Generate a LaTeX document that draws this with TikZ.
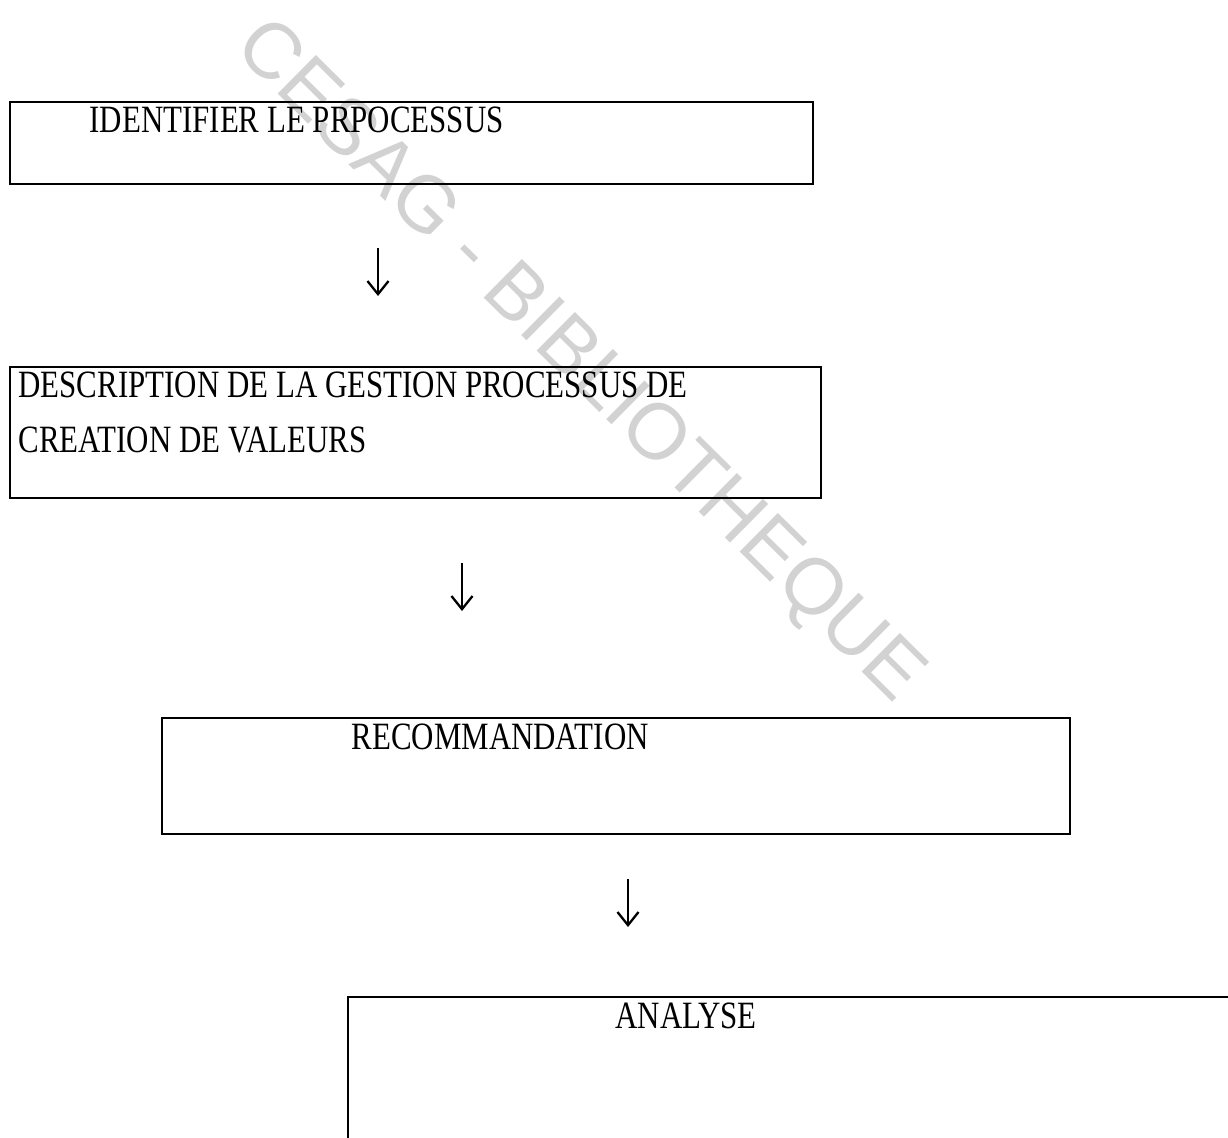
\documentclass[tikz,border=0pt]{standalone}
\usepackage{fontspec}
\setmainfont[FakeStretch=0.8]{Liberation Serif}
\newfontfamily\markfont{Liberation Sans}
\usetikzlibrary{arrows.meta,positioning,fit,calc}
\definecolor{Watermark}{HTML}{D2D2D2}
\tikzset{
    % plain boxes, text set near the top
    stepbox/.style={
        rectangle,
        draw=black,
        line width=0.9pt,
        inner sep=0pt
    },
    steptext/.style={
        anchor=base west,
        inner sep=0pt,
        font=\fontsize{22}{26}\selectfont
    },
    flowarrow/.style={
        -{Straight Barb[length=7.5pt,width=12pt,line width=1.3pt]},
        line width=1.3pt
    }
}
\begin{document}
\begin{tikzpicture}[x=0.02cm, y=-0.02cm]
    \useasboundingbox (0,0) rectangle (1228,1137);
    \clip (0,0) rectangle (1228,1137);
    % watermark
    \node[text=Watermark, font=\markfont\fontsize{45}{45}\selectfont, rotate=-44.7] (mark) at (578,363) {CESAG - BIBLIOTHEQUE};
    % boxes
    \node[stepbox, fit={(10,102)(813,184)}] (ident) {};
    \node[stepbox, fit={(10,367)(821,498)}] (descr) {};
    \node[stepbox, fit={(162,718)(1070,834)}] (recom) {};
    \node[stepbox, fit={(348,997)(1280,1200)}] (analyse) {};
    % labels
    \node[steptext] (identlabel) at ([shift={(80,31)}]ident.north west) {IDENTIFIER LE PRPOCESSUS};
    \node[steptext] (descrlabela) at ([shift={(9,31)}]descr.north west) {DESCRIPTION DE LA GESTION PROCESSUS DE};
    \node[steptext] (descrlabelb) at ([shift={(9,86)}]descr.north west) {CREATION DE VALEURS};
    \node[steptext] (recomlabel) at ([shift={(190,32)}]recom.north west) {RECOMMANDATION};
    \node[steptext] (analyselabel) at ([shift={(268,32)}]analyse.north west) {ANALYSE};
    % arrows
    \coordinate (arrowa) at (378,248);
    \coordinate (arrowb) at (378,296);
    \coordinate (arrowc) at (462,563);
    \coordinate (arrowd) at (462,611);
    \coordinate (arrowe) at (628,879);
    \coordinate (arrowf) at (628,927);
    \draw[flowarrow] (arrowa) -- (arrowb);
    \draw[flowarrow] (arrowc) -- (arrowd);
    \draw[flowarrow] (arrowe) -- (arrowf);
\end{tikzpicture}
\end{document}
